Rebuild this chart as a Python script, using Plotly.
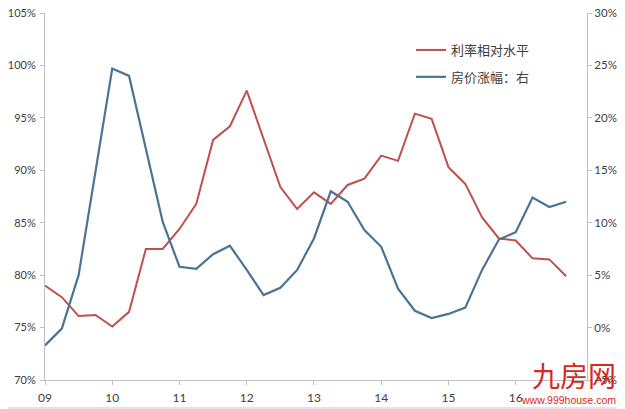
import numpy as np
import plotly.graph_objects as go

# quarterly points, 2009Q1 .. 2016Q4 (x axis in years since 2000)
quarters = np.arange(9, 17, 0.25)

# 利率相对水平 (left axis, %)
rate_level = [79.0, 77.9, 76.1, 76.2, 75.1, 76.5, 82.5, 82.5,
              84.4, 86.8, 92.9, 94.2, 97.6, 92.9, 88.4, 86.3,
              87.9, 86.8, 88.6, 89.2, 91.4, 90.9, 95.4, 94.9,
              90.3, 88.7, 85.5, 83.5, 83.3, 81.6, 81.5, 79.9]

# 房价涨幅 (right axis, %)
price_growth = [-1.7, -0.1, 5.0, 14.8, 24.7, 24.0, 17.0, 10.1,
                5.8, 5.6, 7.0, 7.8, 5.5, 3.1, 3.8, 5.5,
                8.5, 13.0, 12.0, 9.3, 7.7, 3.7, 1.6, 0.9,
                1.3, 1.9, 5.5, 8.4, 9.1, 12.4, 11.5, 12.0]

year_ticks = [9, 10, 11, 12, 13, 14, 15, 16]
year_labels = ["09", "10", "11", "12", "13", "14", "15", "16"]

RED = "#C0504D"
BLUE = "#4A7396"
AXIS = "#BFBFBF"
TEXT = "#404040"
FONT = "Lato, 'Noto Sans CJK SC', sans-serif"

fig = go.Figure()

fig.add_trace(go.Scatter(
    x=quarters, y=rate_level, name="利率相对水平",
    mode="lines", line=dict(color=RED, width=2),
    legendgroup="a",
))
fig.add_trace(go.Scatter(
    x=quarters, y=price_growth, name="房价涨幅：右",
    mode="lines", line=dict(color=BLUE, width=2.2),
    yaxis="y2", legendgroup="b",
))

# the page body has an 8px margin, so the figure sits at (8, 8) in the window.
# target plot area in window pixels: x 45..587, y 13..380
PAGE = 8
W, H = 625 - PAGE, 409 - PAGE
L, T = 45 - PAGE, 13 - PAGE
R, B = W - (587 - PAGE), H - (380 - PAGE)
pw, ph = W - L - R, H - T - B


def px_x(x):
    # window pixel -> paper x
    return (x - PAGE - L) / pw


def px_y(y):
    # window pixel -> paper y
    return (H - B - (y - PAGE)) / ph


axis_style = dict(
    showgrid=False, zeroline=False, showline=True, linecolor=AXIS,
    ticks="outside", ticklen=4, tickcolor=AXIS, automargin=False,
    ticklabeloverflow="allow",
)

fig.update_layout(
    width=W, height=H,
    margin=dict(l=L, r=R, t=T, b=B, autoexpand=False),
    paper_bgcolor="white", plot_bgcolor="white",
    font=dict(family=FONT, size=12, color=TEXT),
    showlegend=True,
    legend=dict(
        x=px_x(411), y=px_y(35), xanchor="left", yanchor="top",
        bgcolor="rgba(0,0,0,0)", traceorder="grouped",
        tracegroupgap=7, itemwidth=30,
        font=dict(size=13, color=TEXT),
    ),
    xaxis=dict(
        range=[9, 17.06], tickvals=year_ticks, ticktext=year_labels,
        ticklabelstandoff=3, tickfont=dict(size=12, color=TEXT),
        **axis_style,
    ),
    yaxis=dict(
        range=[70, 105], dtick=5, ticksuffix="%",
        ticklabelstandoff=2, tickfont=dict(size=11, color=TEXT),
        **axis_style,
    ),
    yaxis2=dict(
        range=[-5, 30], dtick=5, ticksuffix="%",
        overlaying="y", side="right",
        tickfont=dict(size=11.5, color=TEXT), **axis_style,
    ),
)

# right and bottom edges of the picture frame
fig.add_shape(
    type="line", xref="paper", yref="paper",
    x0=px_x(624), x1=px_x(624), y0=px_y(408.5), y1=px_y(0),
    line=dict(color="#C8C8C8", width=1),
)
fig.add_shape(
    type="line", xref="paper", yref="paper",
    x0=px_x(0), x1=px_x(624), y0=px_y(408), y1=px_y(408),
    line=dict(color="#C8C8C8", width=1),
)

# site watermark in the bottom right corner
fig.add_annotation(
    x=px_x(618), y=px_y(375), xref="paper", yref="paper",
    xanchor="right", yanchor="middle",
    text="九房网", showarrow=False,
    font=dict(family="'Noto Sans CJK SC'", size=28, color="#D42A22"),
)
fig.add_annotation(
    x=px_x(618), y=px_y(400), xref="paper", yref="paper",
    xanchor="right", yanchor="middle",
    text="www.999house.com", showarrow=False,
    font=dict(family="'Liberation Sans', sans-serif", size=10.5, color="#D42A22"),
)

fig.write_html("out.html")
